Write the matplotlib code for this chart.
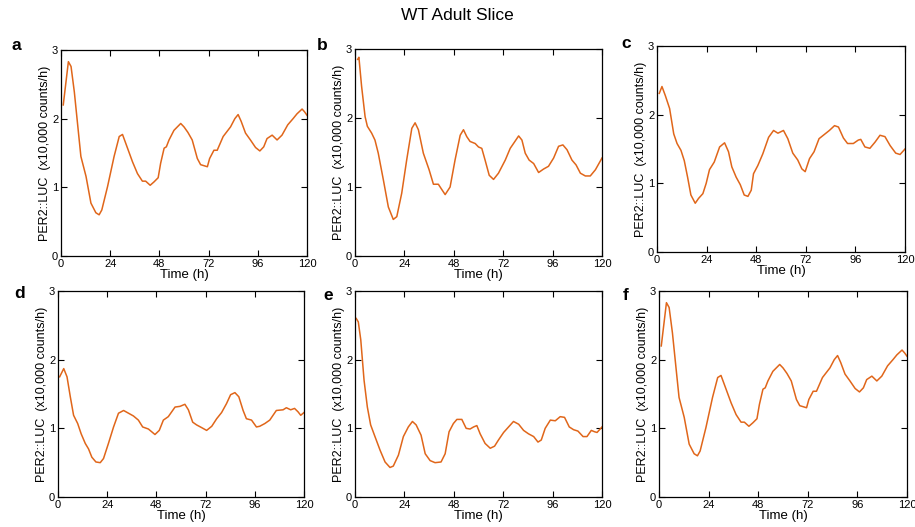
import matplotlib
matplotlib.use("Agg")
import matplotlib.pyplot as plt

plt.rcParams['font.family'] = ['Liberation Sans', 'DejaVu Sans']

# ---------------- data ----------------
a_time = [1.1, 3.6, 4.9, 6.5, 8.4, 9.7, 12.2, 14.6, 17, 18.6, 19.9, 22.7, 25.9, 28.4, 30, 31.6,
          34.9, 37.3, 39.7, 41.3, 43.5, 45.4, 47.4, 48.6, 50.3, 51.4, 52.7, 55.1, 58.4, 60,
          61.9, 64, 66.5, 68.1, 71.4, 72.5, 74.6, 76.2, 79.1, 82.7, 84.8, 86.4, 87.9, 90,
          92.4, 94.9, 97, 98.9, 100.5, 103, 105.4, 107.8, 110.6, 113.2, 115.1, 117.6, 118.8, 120]
a_value = [2.20, 2.83, 2.76, 2.39, 1.83, 1.45, 1.16, 0.77, 0.63, 0.60, 0.67, 1.01, 1.45, 1.74, 1.77, 1.64,
           1.37, 1.20, 1.09, 1.09, 1.03, 1.08, 1.14, 1.35, 1.57, 1.59, 1.69, 1.83, 1.93, 1.88,
           1.80, 1.69, 1.42, 1.33, 1.30, 1.42, 1.54, 1.54, 1.74, 1.88, 2.00, 2.06, 1.96, 1.79,
           1.69, 1.58, 1.53, 1.59, 1.71, 1.76, 1.69, 1.76, 1.91, 2.00, 2.07, 2.14, 2.10, 2.05]

b_time = [1.3, 1.9, 3.2, 4.9, 6, 8.1, 9.7, 11.3, 13.8, 16.2, 18.6, 20.3, 22.7, 25.1, 27.6, 29.2,
          30.8, 33.2, 36, 38.1, 40.5, 41.8, 43.8, 46.2, 48.6, 51.1, 52.7, 54.3, 55.9, 58.4,
          60, 61.6, 63.2, 65.2, 67.3, 69.7, 73, 75.4, 77, 79.5, 81.1, 82.7, 84.6, 86.8, 89.2,
          91.6, 94, 96.5, 98.9, 101, 103, 105.4, 107.4, 109.5, 111.9, 114.3, 116.8, 120]
b_value = [2.85, 2.88, 2.46, 2.02, 1.88, 1.78, 1.68, 1.49, 1.10, 0.71, 0.53, 0.57, 0.91, 1.39, 1.85, 1.93,
           1.83, 1.49, 1.25, 1.04, 1.04, 0.98, 0.89, 1.00, 1.39, 1.75, 1.83, 1.73, 1.66, 1.63,
           1.58, 1.56, 1.39, 1.17, 1.11, 1.20, 1.39, 1.56, 1.63, 1.74, 1.68, 1.49, 1.39, 1.34, 1.21,
           1.26, 1.30, 1.42, 1.59, 1.61, 1.54, 1.39, 1.32, 1.20, 1.16, 1.16, 1.25, 1.42]

c_time = [1.1, 2.4, 4, 6.1, 8.1, 9.7, 11.6, 13.2, 14.8, 16.4, 18.5, 20.1, 22.2, 23.8, 25.4, 27.7,
          30.3, 32.7, 34.6, 36.2, 38.3, 40.3, 42.2, 44, 45.6, 46.7, 48.8, 51.2, 54, 56.4, 58.5,
          61.2, 63.3, 65.7, 68.1, 70.1, 71.7, 73.8, 76, 78.4, 80.9, 83.4, 85.9, 87.8, 90.2,
          92.2, 95, 97.4, 98.6, 100.6, 103, 105.5, 107.9, 110.3, 112.8, 115.5, 117.6, 120]
c_value = [2.31, 2.41, 2.28, 2.09, 1.72, 1.58, 1.48, 1.33, 1.09, 0.83, 0.71, 0.78, 0.85, 1.00, 1.20, 1.31,
           1.53, 1.59, 1.46, 1.24, 1.09, 0.98, 0.83, 0.81, 0.90, 1.14, 1.26, 1.43, 1.67, 1.77, 1.73,
           1.77, 1.65, 1.44, 1.34, 1.21, 1.17, 1.36, 1.46, 1.65, 1.71, 1.77, 1.84, 1.82, 1.66,
           1.58, 1.58, 1.63, 1.64, 1.53, 1.51, 1.60, 1.70, 1.68, 1.55, 1.44, 1.42, 1.50]

d_time = [0.8, 2.8, 4.4, 6, 7.6, 9.6, 11.3, 13.3, 14.9, 16.5, 18.5, 20.6, 22.2, 24.6, 27.1, 29.5,
          32, 34.4, 36.8, 39.2, 41.3, 44.1, 47.3, 49.4, 51.4, 53.8, 57.1, 59.5, 61.9, 63.6,
          65.7, 67.6, 70.1, 72.5, 75, 77.4, 79.8, 82.2, 84.2, 86.3, 88.2, 90.3, 91.9, 94.4,
          96.8, 98.4, 100.9, 103.3, 106.5, 109.8, 111.4, 113.5, 115.4, 117.1, 118.4, 120]
d_value = [1.75, 1.87, 1.75, 1.46, 1.19, 1.07, 0.92, 0.78, 0.70, 0.58, 0.51, 0.50, 0.56, 0.78, 1.02, 1.22,
           1.26, 1.22, 1.18, 1.12, 1.02, 0.99, 0.91, 0.97, 1.12, 1.17, 1.31, 1.32, 1.35, 1.27,
           1.09, 1.05, 1.01, 0.97, 1.03, 1.14, 1.23, 1.36, 1.49, 1.52, 1.46, 1.26, 1.14, 1.12,
           1.02, 1.03, 1.07, 1.12, 1.26, 1.27, 1.30, 1.27, 1.29, 1.24, 1.19, 1.23]

e_time = [0.6, 1.6, 2.8, 4.4, 6, 7.6, 9.7, 12.2, 14.6, 17, 18.6, 21.1, 23.5, 25.9, 27.9, 29.7,
          32.1, 34.1, 36.5, 38.9, 41.8, 43.8, 45.7, 47.8, 49.5, 51.9, 54, 55.9, 57.6, 59.2,
          60.8, 63.2, 65.7, 67.8, 69.7, 72.2, 74.6, 77, 79.5, 81.9, 84.3, 86.8, 88.9, 90.5,
          92.4, 94.9, 97.3, 99.7, 101.8, 104.1, 106.2, 108.3, 110.8, 112.7, 114.8, 116.4, 117.6, 120]
e_value = [2.60, 2.55, 2.29, 1.70, 1.31, 1.05, 0.88, 0.68, 0.51, 0.43, 0.45, 0.61, 0.88, 1.02, 1.10, 1.05,
           0.90, 0.63, 0.53, 0.50, 0.51, 0.63, 0.95, 1.07, 1.13, 1.13, 1.00, 0.99, 1.02, 1.04,
           0.92, 0.78, 0.71, 0.74, 0.83, 0.94, 1.02, 1.10, 1.06, 0.97, 0.92, 0.88, 0.80, 0.83,
           1.00, 1.12, 1.11, 1.17, 1.16, 1.02, 0.98, 0.96, 0.88, 0.88, 0.97, 0.95, 0.94, 1.02]

# panel f shows the same trace as panel a
f_time = list(a_time)
f_value = list(a_value)

panel_letters = ['a', 'b', 'c', 'd', 'e', 'f']
x_ticks = [0, 24, 48, 72, 96, 120]
y_ticks = [0, 1, 2, 3]
x_label = 'Time (h)'
y_label = 'PER2::LUC  (x10,000 counts/h)'
title = 'WT Adult Slice'

series = [(a_time, a_value), (b_time, b_value), (c_time, c_value),
          (d_time, d_value), (e_time, e_value), (f_time, f_value)]

# ---------------- layout ----------------
W, H = 915, 527
fig = plt.figure(figsize=(W / 100, H / 100), dpi=100)

# (left, top, right, bottom) in pixels
boxes = [(61, 50, 307, 256), (355, 49, 602, 256), (657, 46, 905, 252),
         (58, 291, 304, 497), (355, 291, 602, 497), (659, 291, 907, 497)]
letter_pos = [(12, 46), (317, 46), (621, 44), (14, 293), (323, 296), (623, 296)]

line_color = '#E0661A'

for (t, v), (l, tp, r, b), letter, (lx, ly) in zip(series, boxes, panel_letters, letter_pos):
    ax = fig.add_axes([l / W, 1 - b / H, (r - l) / W, (b - tp) / H])
    ax.plot(t, v, color=line_color, lw=1.1, solid_joinstyle='round')
    ax.set_xlim(0, 120)
    ax.set_ylim(0, 3)
    ax.set_xticks(x_ticks)
    ax.set_yticks(y_ticks)
    ax.tick_params(direction='in', top=True, right=True, length=4, width=0.8,
                   labelsize=8, pad=2, labeltop=False, labelright=False)
    for s in ax.spines.values():
        s.set_linewidth(0.9)
    ax.set_xlabel(x_label, fontsize=9.5, labelpad=0)
    ax.set_ylabel(y_label, fontsize=9, labelpad=1)
    fig.text(lx / W, 1 - ly / H, letter, fontsize=12.5, fontweight='bold',
             ha='left', va='center')

fig.text(0.5, 1 - 15 / H, title, fontsize=12.5, ha='center', va='center')

fig.savefig('out.png', dpi=100)
